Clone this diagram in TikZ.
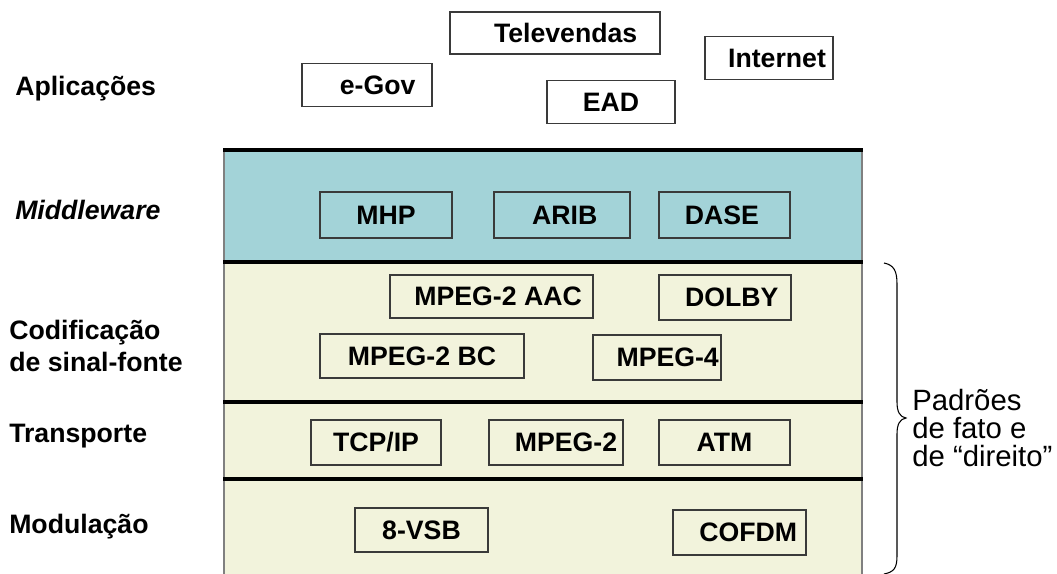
\documentclass[tikz,border=0pt]{standalone}
\usepackage{fontspec}
\setmainfont{Liberation Sans}
\definecolor{mwteal}{HTML}{A3D3D8}
\definecolor{layercream}{HTML}{F2F3DC}
\definecolor{boxline}{HTML}{3A3A3A}
\begin{document}
\begin{tikzpicture}[x=0.75pt,y=-0.75pt,
  tbox/.style={draw=boxline,line width=0.8pt,inner sep=0pt,font=\fontsize{20}{24}\selectfont\bfseries},
  wh/.style 2 args={minimum width={#1*0.75pt},minimum height={#2*0.75pt}},
  lbl/.style={anchor=west,inner sep=0pt,font=\fontsize{20}{24}\selectfont\bfseries,align=left},
  sep/.style={line width=3pt,black},
  side/.style={line width=0.8pt,draw=gray}]
\useasboundingbox (0,0) rectangle (1057,574);
% layers
\fill[mwteal] (224,150) rectangle (862,262);
\fill[layercream] (224,262) rectangle (862,574);
\draw[side] (224,150) -- (224,574);
\draw[side] (862,150) -- (862,574);
\foreach \yy in {150,262,402,479} \draw[sep] (223,\yy) -- (863,\yy);
% left labels
\node[lbl] (lapp) at (15,89) {Aplicações};
\node[lbl] (lmw) at (15,210) {\itshape Middleware};
\node[lbl,font=\fontsize{20}{24}\selectfont\bfseries] (lcod) at (9,346) {Codificação\\de sinal-fonte};
\node[lbl] (ltr) at (9,436) {Transporte};
\node[lbl] (lmod) at (9,527) {Modulação};
% applications
\node[tbox,wh={130}{43}] (egov) at (367,85) {\hspace*{16pt}e-Gov};
\node[tbox,wh={210}{42}] (tele) at (555,33) {\hspace*{16pt}Televendas};
\node[tbox,wh={128}{43}] (ead) at (611,102) {EAD};
\node[tbox,wh={128}{43}] (inet) at (769,58) {\hspace*{12pt}Internet};
% middleware
\node[tbox,wh={132}{46}] (mhp) at (386,215) {MHP};
\node[tbox,wh={136}{46}] (arib) at (562,215) {\hspace*{4pt}ARIB};
\node[tbox,wh={131}{46}] (dase) at (724.5,215) {DASE\hspace*{4pt}};
% coding
\node[tbox,wh={203}{43}] (aac) at (491.5,296.5) {\hspace*{10pt}MPEG-2 AAC};
\node[tbox,wh={132}{45}] (dolby) at (725,297.5) {\hspace*{10pt}DOLBY};
\node[tbox,wh={204}{44}] (bc) at (422,356) {MPEG-2 BC};
\node[tbox,wh={128}{45}] (mp4) at (657,357.5) {\hspace*{16pt}MPEG-4};
% transport
\node[tbox,wh={130}{45}] (tcp) at (376,442.5) {TCP/IP};
\node[tbox,wh={134}{45}] (mp2) at (556,442.5) {\hspace*{15pt}MPEG-2};
\node[tbox,wh={131}{45}] (atm) at (724.5,442.5) {ATM};
% modulation
\node[tbox,wh={133}{44}] (vsb) at (421.5,530) {8-VSB};
\node[tbox,wh={133}{45}] (cofdm) at (739.5,532.5) {\hspace*{13pt}COFDM};
% brace
\coordinate (btop) at (884,263);
\coordinate (btip) at (906,418);
\coordinate (bbot) at (884,574);
\draw[line width=0.8pt] (btop) .. controls (894,265) and (897,271) .. (897,284) -- (897,402)
  .. controls (897,412) and (900,417) .. (btip)
  .. controls (900,419) and (897,424) .. (897,434) -- (897,556)
  .. controls (897,568) and (894,572) .. (bbot);
\node[anchor=west,inner sep=0pt,align=left,font=\fontsize{22}{21}\selectfont] (padr) at (912,428) {Padrões\\de fato e\\de “direito”};
\end{tikzpicture}
\end{document}
